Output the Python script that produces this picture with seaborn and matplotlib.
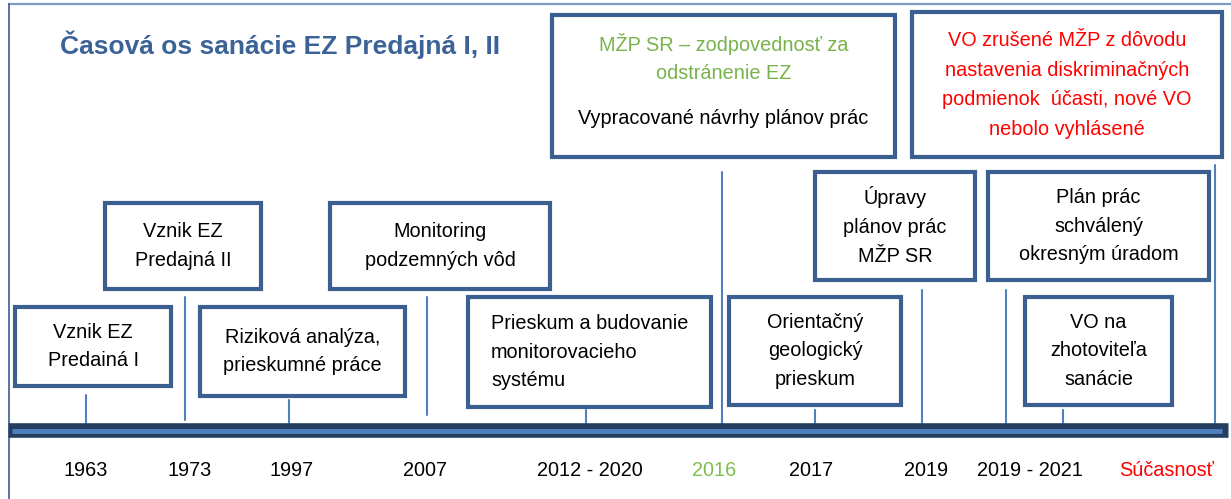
import matplotlib
matplotlib.use("Agg")
import matplotlib.pyplot as plt
import seaborn as sns
import pandas as pd
from matplotlib.patches import Rectangle

# ---------------- data ----------------
title = "Časová os sanácie EZ Predajná I, II"
period_labels = ["1963", "1973", "1997", "2007", "2012 - 2020", "2016", "2017",
                 "2019", "2019 - 2021", "Súčasnosť"]
period_colors = ["black", "black", "black", "black", "black", "#7DBF4E", "black",
                 "black", "black", "#FF0000"]
event_texts = [
    "Vznik EZ\nPredainá I",
    "Vznik EZ\nPredajná II",
    "Riziková analýza,\nprieskumné práce",
    "Monitoring\npodzemných vôd",
    "Prieskum a budovanie\nmonitorovacieho\nsystému",
    "Orientačný\ngeologický\nprieskum",
    "Úpravy\nplánov prác\nMŽP SR",
    "Plán prác\nschválený\nokresným úradom",
    "VO na\nzhotoviteľa\nsanácie",
]
ministry_text = "MŽP SR – zodpovednosť za\nodstránenie EZ"
plans_text = "Vypracované návrhy plánov prác"
cancel_text = "VO zrušené MŽP z dôvodu\nnastavenia diskriminačných\npodmienok  účasti, nové VO\nnebolo vyhlásené"

# ---------------- layout (pixel space) ----------------
W, H = 1231, 499
label_x = [86, 190, 292, 425, 590, 714, 811, 926, 1030, 1167]
label_y = 470
# event boxes: x0, y0(top), x1, y1(bottom)
event_boxes = [
    (15, 307, 171, 386),
    (105, 203, 261, 289),
    (200, 307, 405, 396),
    (330, 203, 550, 289),
    (468, 297, 711, 407),
    (729, 297, 901, 405),
    (815, 172, 975, 280),
    (988, 172, 1209, 280),
    (1025, 297, 1172, 405),
]
box6 = (552, 15, 895, 157)
box7 = (912, 12, 1222, 157)
# connectors: x, y_top, y_bottom
connectors = [
    (86, 395, 423), (185, 297, 420), (289, 400, 423), (427, 297, 415),
    (586, 410, 423), (722, 172, 432), (815, 410, 423), (922, 290, 423),
    (1006, 290, 423), (1063, 410, 423), (1215, 165, 423),
]

NAVY = "#243F60"
BOXBLUE = "#3A5F90"
LIGHT = "#4F81BD"

sns.set_theme(style="white")
plt.rcParams['font.family'] = ['Liberation Sans Narrow', 'Liberation Sans', 'DejaVu Sans']

fig = plt.figure(figsize=(W / 100, H / 100), dpi=100)
ax = fig.add_axes([0, 0, 1, 1])

# frame lines
ax.plot([8, W], [4, 4], color="#7F9CC4", lw=1.6, solid_capstyle="butt")
ax.plot([9, 9], [4, H], color=BOXBLUE, lw=1.2)

# connectors
for x, y0, y1 in connectors:
    ax.plot([x, x], [y0, y1], color=LIGHT, lw=1.5, zorder=1)

# timeline bar via seaborn
bar = pd.DataFrame({"x": [8, 1228], "y": [430, 430]})
sns.lineplot(data=bar, x="x", y="y", ax=ax, color=NAVY, lw=10.5,
             solid_capstyle="butt", zorder=3)
bar2 = pd.DataFrame({"x": [12, 1222], "y": [430.5, 430.5]})
sns.lineplot(data=bar2, x="x", y="y", ax=ax, color=LIGHT, lw=3.5,
             solid_capstyle="butt", zorder=4)
ax.set_xlim(0, W)
ax.set_ylim(H, 0)
ax.axis("off")


def draw_box(b):
    x0, y0, x1, y1 = b
    ax.add_patch(Rectangle((x0, y0), x1 - x0, y1 - y0, facecolor="white",
                           edgecolor=BOXBLUE, lw=3.0, zorder=5))


FS = 14.3
LS = 1.65
for i, (txt, b) in enumerate(zip(event_texts, event_boxes)):
    draw_box(b)
    x0, y0, x1, y1 = b
    if i == 4:
        ax.text(x0 + 23, (y0 + y1) / 2, txt, ha="left", va="center",
                fontsize=FS, linespacing=LS, color="black", zorder=6)
    else:
        ax.text((x0 + x1) / 2, (y0 + y1) / 2, txt, ha="center", va="center",
                fontsize=FS, linespacing=LS, color="black", zorder=6)

draw_box(box6)
ax.text((box6[0] + box6[2]) / 2, 58, ministry_text, ha="center", va="center",
        fontsize=FS, linespacing=LS, color="#77B34A", zorder=6)
ax.text((box6[0] + box6[2]) / 2, 118, plans_text, ha="center", va="center",
        fontsize=FS, color="black", zorder=6)

draw_box(box7)
ax.text((box7[0] + box7[2]) / 2, 85, cancel_text, ha="center", va="center",
        fontsize=FS, linespacing=1.7, color="#FF0000", zorder=6)

# title
ax.text(60, 45, title, ha="left", va="center", fontsize=19, fontweight="bold",
        color="#3C6398", zorder=6)

# period labels
for lab, x, c in zip(period_labels, label_x, period_colors):
    ax.text(x, label_y, lab, ha="center", va="center", fontsize=FS, color=c)

fig.savefig("out.png", dpi=100)
